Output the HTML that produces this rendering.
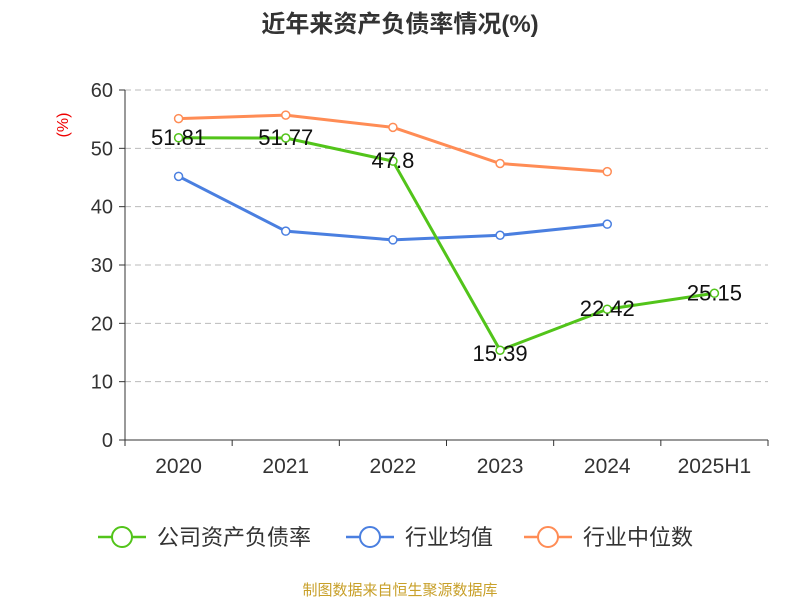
<!DOCTYPE html>
<html><head><meta charset="utf-8"><style>
body{margin:0;background:#fff;width:800px;height:600px;overflow:hidden;font-family:"Liberation Sans","Noto Sans CJK SC",sans-serif}
</style></head><body>
<svg id="c" width="800" height="600" xmlns="http://www.w3.org/2000/svg">
<text x="400" y="32" text-anchor="middle" font-size="24" font-weight="bold" fill="#333" font-family="Liberation Sans, Noto Sans CJK SC, sans-serif">近年来资产负债率情况(%)</text>
<text x="0" y="0" transform="translate(68,125) rotate(-90)" text-anchor="middle" font-size="16" fill="#e00">(%)</text>
<g id="grid"></g><g id="axes"></g><g id="series"></g>
<g font-size="22" fill="#333" font-family="Liberation Sans, Noto Sans CJK SC, sans-serif">
<g><line x1="98" y1="537" x2="146" y2="537" stroke="#52c41a" stroke-width="2.5"/><circle cx="122" cy="537" r="10" fill="#fff" stroke="#52c41a" stroke-width="2"/><text x="157" y="545">公司资产负债率</text></g>
<g><line x1="346" y1="537" x2="394" y2="537" stroke="#4a7fe0" stroke-width="2.5"/><circle cx="370" cy="537" r="10" fill="#fff" stroke="#4a7fe0" stroke-width="2"/><text x="405" y="545">行业均值</text></g>
<g><line x1="524" y1="537" x2="572" y2="537" stroke="#ff8c55" stroke-width="2.5"/><circle cx="548" cy="537" r="10" fill="#fff" stroke="#ff8c55" stroke-width="2"/><text x="583" y="545">行业中位数</text></g>
</g>
<text x="400" y="595" text-anchor="middle" font-size="15" fill="#c8a02a">制图数据来自恒生聚源数据库</text>
</svg>
<script>
const categories=["2020","2021","2022","2023","2024","2025H1"];
const companyValues=[51.81,51.77,47.8,15.39,22.42,25.15];
const avgValues=[45.2,35.8,34.3,35.1,37.0];
const medianValues=[55.1,55.7,53.6,47.4,46.0];
const yTicks=[0,10,20,30,40,50,60];
const NS="http://www.w3.org/2000/svg";
const x0=125,x1=768,yb=440,yt=90,ymax=60;
const bw=(x1-x0)/categories.length;
const xS=i=>x0+bw*(i+0.5);
const yS=v=>yb-(v/ymax)*(yb-yt);
function mk(t,a,p){const e=document.createElementNS(NS,t);for(const k in a)e.setAttribute(k,a[k]);p.appendChild(e);return e;}
const grid=document.getElementById('grid'),axes=document.getElementById('axes'),ser=document.getElementById('series');
yTicks.forEach(v=>{
 if(v>0){const g=mk('line',{x1:x0,x2:x1,y1:yS(v),y2:yS(v),stroke:'#bbb','stroke-dasharray':'6,4'},grid);
 
 }
 const tk=mk('line',{x1:x0-6,x2:x0,y1:yS(v),y2:yS(v),stroke:'#333'},axes);
 
 
 const t=mk('text',{x:x0-12,y:yS(v)+7,'text-anchor':'end','font-size':20,fill:'#333'},axes);t.textContent=v;
 
 
});
const ya=mk('line',{x1:x0,x2:x0,y1:yt,y2:yb,stroke:'#333'},axes);


const xa=mk('line',{x1:x0,x2:x1,y1:yb,y2:yb,stroke:'#333'},axes);


for(let i=0;i<=categories.length;i++){const l=mk('line',{x1:x0+bw*i,x2:x0+bw*i,y1:yb,y2:yb+6,stroke:'#333'},axes);
 
 }
categories.forEach((c,i)=>{const t=mk('text',{x:xS(i),y:yb+33,'text-anchor':'middle','font-size':21,fill:'#333'},axes);t.textContent=c;
 
 });
function series(vals,color,name,labels){
 const pts=vals.map((v,i)=>xS(i)+','+yS(v)).join(' ');
 const pl=mk('polyline',{points:pts,fill:'none',stroke:color,'stroke-width':3},ser);
 
 
 vals.forEach((v,i)=>{const c=mk('circle',{cx:xS(i),cy:yS(v),r:4,fill:'#fff',stroke:color,'stroke-width':1.5},ser);
  
  
  if(labels){const t=mk('text',{x:xS(i),y:yS(v)+(i===3?11:7),'text-anchor':'middle','font-size':22,fill:'#111'},ser);t.textContent=v;
   
   }
 });
}
series(avgValues,'#4a7fe0','industry-average',false);
series(medianValues,'#ff8c55','industry-median',false);
series(companyValues,'#52c41a','company',true);
</script>
</body></html>
